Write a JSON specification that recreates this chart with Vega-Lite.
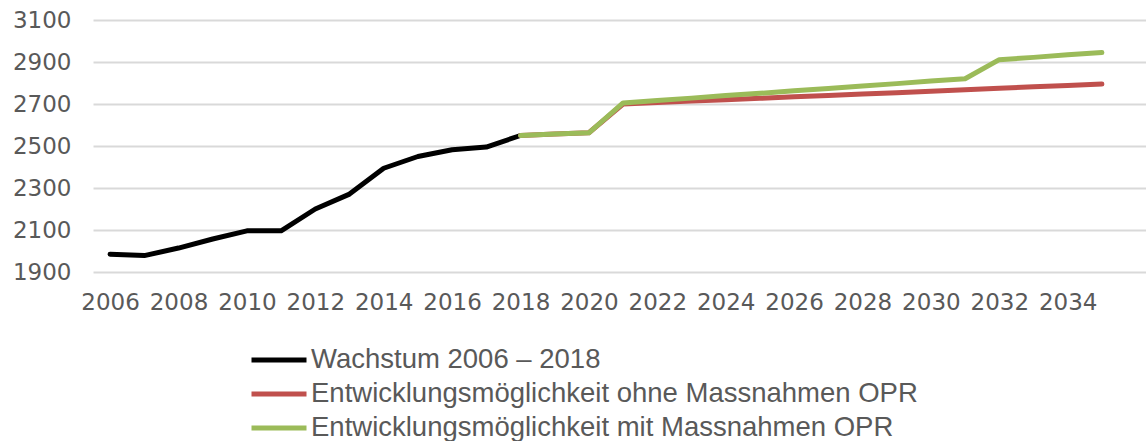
{
  "$schema": "https://vega.github.io/schema/vega-lite/v6.json",
  "autosize": {"type": "none"},
  "padding": {"left": 93, "top": 20, "right": 0, "bottom": 169},
  "width": 1053,
  "height": 252,
  "background": "white",
  "config": {"view": {"stroke": null}, "font": "DejaVu Sans"},
  "data": {"values": [
    {"year": 2006, "value": 1985, "series": "Wachstum 2006 – 2018"},
    {"year": 2007, "value": 1978, "series": "Wachstum 2006 – 2018"},
    {"year": 2008, "value": 2014, "series": "Wachstum 2006 – 2018"},
    {"year": 2009, "value": 2057, "series": "Wachstum 2006 – 2018"},
    {"year": 2010, "value": 2096, "series": "Wachstum 2006 – 2018"},
    {"year": 2011, "value": 2096, "series": "Wachstum 2006 – 2018"},
    {"year": 2012, "value": 2200, "series": "Wachstum 2006 – 2018"},
    {"year": 2013, "value": 2271, "series": "Wachstum 2006 – 2018"},
    {"year": 2014, "value": 2394, "series": "Wachstum 2006 – 2018"},
    {"year": 2015, "value": 2450, "series": "Wachstum 2006 – 2018"},
    {"year": 2016, "value": 2482, "series": "Wachstum 2006 – 2018"},
    {"year": 2017, "value": 2495, "series": "Wachstum 2006 – 2018"},
    {"year": 2018, "value": 2550, "series": "Wachstum 2006 – 2018"},
    {"year": 2018, "value": 2550, "series": "Entwicklungsmöglichkeit ohne Massnahmen OPR"},
    {"year": 2019, "value": 2557, "series": "Entwicklungsmöglichkeit ohne Massnahmen OPR"},
    {"year": 2020, "value": 2563, "series": "Entwicklungsmöglichkeit ohne Massnahmen OPR"},
    {"year": 2021, "value": 2700, "series": "Entwicklungsmöglichkeit ohne Massnahmen OPR"},
    {"year": 2022, "value": 2707, "series": "Entwicklungsmöglichkeit ohne Massnahmen OPR"},
    {"year": 2023, "value": 2714, "series": "Entwicklungsmöglichkeit ohne Massnahmen OPR"},
    {"year": 2024, "value": 2720, "series": "Entwicklungsmöglichkeit ohne Massnahmen OPR"},
    {"year": 2025, "value": 2727, "series": "Entwicklungsmöglichkeit ohne Massnahmen OPR"},
    {"year": 2026, "value": 2734, "series": "Entwicklungsmöglichkeit ohne Massnahmen OPR"},
    {"year": 2027, "value": 2741, "series": "Entwicklungsmöglichkeit ohne Massnahmen OPR"},
    {"year": 2028, "value": 2748, "series": "Entwicklungsmöglichkeit ohne Massnahmen OPR"},
    {"year": 2029, "value": 2754, "series": "Entwicklungsmöglichkeit ohne Massnahmen OPR"},
    {"year": 2030, "value": 2761, "series": "Entwicklungsmöglichkeit ohne Massnahmen OPR"},
    {"year": 2031, "value": 2768, "series": "Entwicklungsmöglichkeit ohne Massnahmen OPR"},
    {"year": 2032, "value": 2775, "series": "Entwicklungsmöglichkeit ohne Massnahmen OPR"},
    {"year": 2033, "value": 2782, "series": "Entwicklungsmöglichkeit ohne Massnahmen OPR"},
    {"year": 2034, "value": 2788, "series": "Entwicklungsmöglichkeit ohne Massnahmen OPR"},
    {"year": 2035, "value": 2795, "series": "Entwicklungsmöglichkeit ohne Massnahmen OPR"},
    {"year": 2018, "value": 2550, "series": "Entwicklungsmöglichkeit mit Massnahmen OPR"},
    {"year": 2019, "value": 2557, "series": "Entwicklungsmöglichkeit mit Massnahmen OPR"},
    {"year": 2020, "value": 2563, "series": "Entwicklungsmöglichkeit mit Massnahmen OPR"},
    {"year": 2021, "value": 2705, "series": "Entwicklungsmöglichkeit mit Massnahmen OPR"},
    {"year": 2022, "value": 2717, "series": "Entwicklungsmöglichkeit mit Massnahmen OPR"},
    {"year": 2023, "value": 2728, "series": "Entwicklungsmöglichkeit mit Massnahmen OPR"},
    {"year": 2024, "value": 2740, "series": "Entwicklungsmöglichkeit mit Massnahmen OPR"},
    {"year": 2025, "value": 2751, "series": "Entwicklungsmöglichkeit mit Massnahmen OPR"},
    {"year": 2026, "value": 2763, "series": "Entwicklungsmöglichkeit mit Massnahmen OPR"},
    {"year": 2027, "value": 2774, "series": "Entwicklungsmöglichkeit mit Massnahmen OPR"},
    {"year": 2028, "value": 2786, "series": "Entwicklungsmöglichkeit mit Massnahmen OPR"},
    {"year": 2029, "value": 2797, "series": "Entwicklungsmöglichkeit mit Massnahmen OPR"},
    {"year": 2030, "value": 2809, "series": "Entwicklungsmöglichkeit mit Massnahmen OPR"},
    {"year": 2031, "value": 2820, "series": "Entwicklungsmöglichkeit mit Massnahmen OPR"},
    {"year": 2032, "value": 2911, "series": "Entwicklungsmöglichkeit mit Massnahmen OPR"},
    {"year": 2033, "value": 2922, "series": "Entwicklungsmöglichkeit mit Massnahmen OPR"},
    {"year": 2034, "value": 2934, "series": "Entwicklungsmöglichkeit mit Massnahmen OPR"},
    {"year": 2035, "value": 2945, "series": "Entwicklungsmöglichkeit mit Massnahmen OPR"}
  ]},
  "mark": {"type": "line", "strokeWidth": 5, "strokeCap": "round", "strokeJoin": "round"},
  "encoding": {
    "x": {
      "field": "year", "type": "quantitative",
      "scale": {"domain": [2005.5, 2036.29], "nice": false, "zero": false},
      "axis": {
        "title": null, "values": [2006, 2008, 2010, 2012, 2014, 2016, 2018, 2020, 2022, 2024, 2026, 2028, 2030, 2032, 2034],
        "format": "d", "grid": false, "domain": false, "ticks": false,
        "labelFontSize": 23, "labelColor": "#595959", "labelPadding": 19,
        "labelFont": "DejaVu Sans", "labelFlush": false, "labelOverlap": false
      }
    },
    "y": {
      "field": "value", "type": "quantitative",
      "scale": {"domain": [1900, 3100], "nice": false, "zero": false},
      "axis": {
        "title": null, "values": [1900, 2100, 2300, 2500, 2700, 2900, 3100],
        "format": "d", "grid": true, "gridColor": "#D9D9D9", "gridWidth": 2,
        "domain": false, "ticks": false,
        "labelFontSize": 23, "labelColor": "#595959", "labelPadding": 22,
        "labelFont": "DejaVu Sans", "labelFlush": false, "labelOverlap": false
      }
    },
    "color": {
      "field": "series", "type": "nominal",
      "scale": {
        "domain": ["Wachstum 2006 – 2018", "Entwicklungsmöglichkeit ohne Massnahmen OPR", "Entwicklungsmöglichkeit mit Massnahmen OPR"],
        "range": ["#000000", "#C0504D", "#9BBB59"]
      },
      "legend": {
        "title": null, "orient": "none", "legendX": 156, "legendY": 323,
        "direction": "vertical", "padding": 0,
        "symbolType": "stroke", "symbolSize": 3025, "symbolStrokeWidth": 5,
        "labelFontSize": 27.5, "labelColor": "#595959", "labelFont": "Liberation Sans",
        "labelOffset": 2, "rowPadding": 0, "clipHeight": 34, "labelLimit": 1000
      }
    }
  }
}
